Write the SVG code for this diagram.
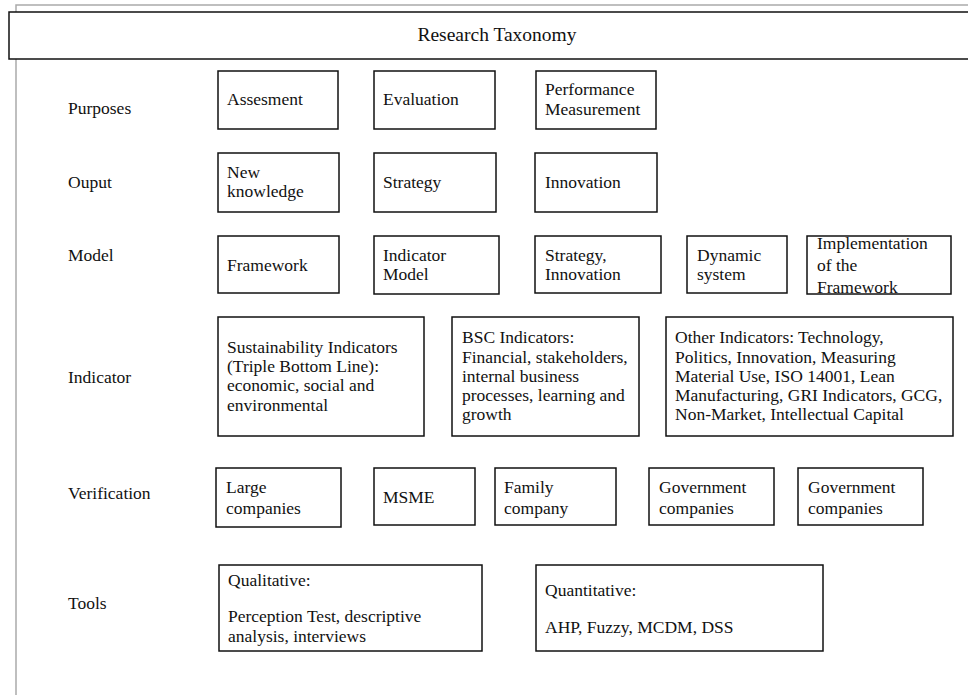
<svg xmlns="http://www.w3.org/2000/svg" width="968" height="695" viewBox="0 0 968 695">
<style>
text{font-family:"Liberation Serif","Times New Roman",serif;font-size:17.5px;fill:#111}
.b{fill:#fff;stroke:#111;stroke-width:1.5}
.title{font-size:19.5px}
</style>
<rect width="968" height="695" fill="#fff"/>
<g id="frame"><polyline points="16,695 16,5 968,5" fill="none" stroke="#aaa" stroke-width="1.5"/></g>
<g id="title"><rect class="b" x="9" y="12" width="965" height="47"/><text class="title" x="497" y="41" text-anchor="middle">Research Taxonomy</text></g>
<g id="labels">
<text x="68" y="114">Purposes</text>
<text x="68" y="188">Ouput</text>
<text x="68" y="261">Model</text>
<text x="68" y="383">Indicator</text>
<text x="68" y="499">Verification</text>
<text x="68" y="609">Tools</text>
</g>
<g id="n-assesment"><rect class="b" x="218" y="71" width="120" height="58"/><text x="227" y="105">Assesment</text></g>
<g id="n-evaluation"><rect class="b" x="374" y="71" width="121" height="58"/><text x="383" y="105">Evaluation</text></g>
<g id="n-performance"><rect class="b" x="536" y="71" width="120" height="58"/><text x="545" y="95">Performance</text><text x="545" y="115">Measurement</text></g>
<g id="n-newknowledge"><rect class="b" x="218" y="153" width="121" height="59"/><text x="227" y="178">New</text><text x="227" y="197">knowledge</text></g>
<g id="n-strategy"><rect class="b" x="374" y="153" width="122" height="59"/><text x="383" y="188">Strategy</text></g>
<g id="n-innovation"><rect class="b" x="535" y="153" width="122" height="59"/><text x="545" y="188">Innovation</text></g>
<g id="n-framework"><rect class="b" x="218" y="236" width="121" height="57"/><text x="227" y="271">Framework</text></g>
<g id="n-indicatormodel"><rect class="b" x="374" y="236" width="125" height="58"/><text x="383" y="261">Indicator</text><text x="383" y="280">Model</text></g>
<g id="n-strategyinnovation"><rect class="b" x="535" y="236" width="126" height="57"/><text x="545" y="261">Strategy,</text><text x="545" y="280">Innovation</text></g>
<g id="n-dynamic"><rect class="b" x="687" y="236" width="100" height="57"/><text x="697" y="261">Dynamic</text><text x="697" y="280">system</text></g>
<g id="n-implementation"><rect class="b" x="807" y="236" width="144" height="58"/><text x="817" y="249">Implementation</text><text x="817" y="271">of the</text><text x="817" y="293">Framework</text></g>
<g id="n-sustainability"><rect class="b" x="218" y="317" width="206" height="119"/><text x="227" y="353">Sustainability Indicators</text><text x="227" y="372">(Triple Bottom Line):</text><text x="227" y="391">economic, social and</text><text x="227" y="411">environmental</text></g>
<g id="n-bsc"><rect class="b" x="452" y="317" width="187" height="119"/><text x="462" y="343">BSC Indicators:</text><text x="462" y="363">Financial, stakeholders,</text><text x="462" y="382">internal business</text><text x="462" y="401">processes, learning and</text><text x="462" y="420">growth</text></g>
<g id="n-other"><rect class="b" x="666" y="317" width="287" height="119"/><text x="675" y="343">Other Indicators: Technology,</text><text x="675" y="363">Politics, Innovation, Measuring</text><text x="675" y="382">Material Use, ISO 14001, Lean</text><text x="675" y="401">Manufacturing, GRI Indicators, GCG,</text><text x="675" y="420">Non-Market, Intellectual Capital</text></g>
<g id="n-large"><rect class="b" x="216" y="468" width="125" height="59"/><text x="226" y="493">Large</text><text x="226" y="514">companies</text></g>
<g id="n-msme"><rect class="b" x="374" y="468" width="101" height="57"/><text x="383" y="503">MSME</text></g>
<g id="n-family"><rect class="b" x="495" y="468" width="121" height="57"/><text x="504" y="493">Family</text><text x="504" y="514">company</text></g>
<g id="n-gov1"><rect class="b" x="649" y="468" width="125" height="57"/><text x="659" y="493">Government</text><text x="659" y="514">companies</text></g>
<g id="n-gov2"><rect class="b" x="798" y="468" width="125" height="57"/><text x="808" y="493">Government</text><text x="808" y="514">companies</text></g>
<g id="n-qualitative"><rect class="b" x="219" y="565" width="263" height="86"/><text x="228" y="586">Qualitative:</text><text x="228" y="622">Perception Test, descriptive</text><text x="228" y="642">analysis, interviews</text></g>
<g id="n-quantitative"><rect class="b" x="536" y="565" width="287" height="86"/><text x="545" y="596">Quantitative:</text><text x="545" y="633">AHP, Fuzzy, MCDM, DSS</text></g>
<g id="connectors"></g>
</svg>
